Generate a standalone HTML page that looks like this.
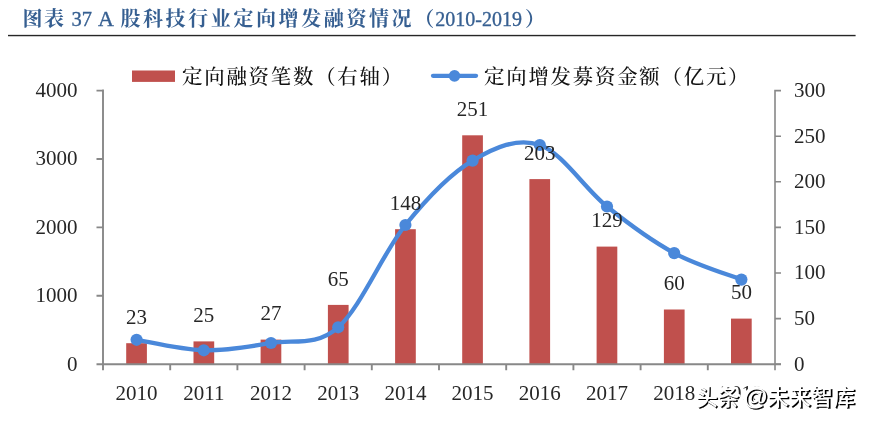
<!DOCTYPE html>
<html lang="zh-CN"><head><meta charset="utf-8"><title>图表 37 A 股科技行业定向增发融资情况</title>
<style>html,body{margin:0;padding:0;background:#fff}body{width:869px;height:422px;overflow:hidden;position:relative}svg{display:block;position:absolute;left:0;top:0}
text{font-family:"Liberation Serif","Noto Serif CJK SC",serif;fill:#262626}
.t{font-weight:700;fill:#365F91;font-size:20px}.tl{font-weight:normal;font-size:20px;stroke:#365F91;stroke-width:0.35px}.n{font-size:21px}.lg{font-size:20.4px;fill:#111;letter-spacing:1.8px;font-weight:500}
.wm text{font-family:"Liberation Sans","Noto Sans CJK SC",sans-serif;font-size:21.5px;font-weight:500;fill:#fff}
</style></head><body>
<svg width="869" height="422" viewBox="0 0 869 422">
<rect width="869" height="422" fill="#fff"/>
<text class="t" y="25.7"><tspan x="22.4" style="letter-spacing:1.6px">图表</tspan><tspan class="tl" x="71.4" style="font-size:20.5px">37</tspan><tspan class="tl" x="98.1" style="font-size:22px">A</tspan><tspan x="120.4" style="letter-spacing:2.6px">股科技行业定向增发融资情况（</tspan><tspan class="tl" x="435.3">2010-2019</tspan><tspan x="525">）</tspan></text>
<rect x="8" y="34.85" width="847.6" height="1.4" fill="#262626"/>
<rect x="132" y="70.5" width="43" height="11.4" fill="#C0504D"/>
<text class="lg" x="182" y="83.5">定向融资笔数（右轴）</text>
<line x1="433" y1="75.85" x2="476" y2="75.85" stroke="#4A88DA" stroke-width="4.3" stroke-linecap="round"/>
<circle cx="454.5" cy="75.85" r="5.8" fill="#4A88DA"/>
<text class="lg" x="484" y="83.5">定向增发募资金额（亿元）</text>
<rect x="126.2" y="343.2" width="20.7" height="21.0" fill="#C0504D"/>
<rect x="193.5" y="341.4" width="20.7" height="22.8" fill="#C0504D"/>
<rect x="260.6" y="339.6" width="20.7" height="24.6" fill="#C0504D"/>
<rect x="327.9" y="304.9" width="20.7" height="59.3" fill="#C0504D"/>
<rect x="395.1" y="229.2" width="20.7" height="135.0" fill="#C0504D"/>
<rect x="462.2" y="135.3" width="20.7" height="228.9" fill="#C0504D"/>
<rect x="529.4" y="179.1" width="20.7" height="185.1" fill="#C0504D"/>
<rect x="596.6" y="246.6" width="20.7" height="117.6" fill="#C0504D"/>
<rect x="663.9" y="309.5" width="20.7" height="54.7" fill="#C0504D"/>
<rect x="731.0" y="318.6" width="20.7" height="45.6" fill="#C0504D"/>
<path d="M103.0 89.6V370.2M96.5 364.2H781.0M96.5 364.2H103.0M96.5 295.8H103.0M96.5 227.4H103.0M96.5 159.0H103.0M96.5 90.6H103.0M170.2 364.2V370.2M237.4 364.2V370.2M304.6 364.2V370.2M371.8 364.2V370.2M439.0 364.2V370.2M506.2 364.2V370.2M573.4 364.2V370.2M640.6 364.2V370.2M707.8 364.2V370.2" stroke="#888888" stroke-width="1.9" fill="none"/>
<path d="M775.0 89.8V370.2M775.0 364.2H781.0M775.0 318.6H781.0M775.0 273.0H781.0M775.0 227.4H781.0M775.0 181.8H781.0M775.0 136.2H781.0M775.0 90.6H781.0" stroke="#888888" stroke-width="1.6" fill="none"/>
<text class="n" x="77.5" y="370.6" text-anchor="end">0</text>
<text class="n" x="77.5" y="302.2" text-anchor="end">1000</text>
<text class="n" x="77.5" y="233.8" text-anchor="end">2000</text>
<text class="n" x="77.5" y="165.4" text-anchor="end">3000</text>
<text class="n" x="77.5" y="97.0" text-anchor="end">4000</text>
<text class="n" x="794" y="370.6">0</text>
<text class="n" x="794" y="325.0">50</text>
<text class="n" x="794" y="279.4">100</text>
<text class="n" x="794" y="233.8">150</text>
<text class="n" x="794" y="188.2">200</text>
<text class="n" x="794" y="142.6">250</text>
<text class="n" x="794" y="97.0">300</text>
<text class="n" x="136.6" y="400" text-anchor="middle">2010</text>
<text class="n" x="203.8" y="400" text-anchor="middle">2011</text>
<text class="n" x="271.0" y="400" text-anchor="middle">2012</text>
<text class="n" x="338.2" y="400" text-anchor="middle">2013</text>
<text class="n" x="405.4" y="400" text-anchor="middle">2014</text>
<text class="n" x="472.6" y="400" text-anchor="middle">2015</text>
<text class="n" x="539.8" y="400" text-anchor="middle">2016</text>
<text class="n" x="607.0" y="400" text-anchor="middle">2017</text>
<text class="n" x="674.2" y="400" text-anchor="middle">2018</text>
<text class="n" x="741.4" y="400" text-anchor="middle">2019</text>
<path d="M136.6 339.8C147.8 341.6 181.4 349.8 203.8 350.3C226.2 350.8 248.6 346.8 271.0 343.0C293.4 339.2 315.8 347.0 338.2 327.3C360.6 307.6 383.0 252.8 405.4 225.0C427.8 197.2 450.2 173.9 472.6 160.6C495.0 147.3 517.4 137.3 539.8 145.0C562.2 152.7 584.6 188.5 607.0 206.5C629.4 224.5 651.8 240.9 674.2 253.1C696.6 265.3 730.2 275.2 741.4 279.6" stroke="#4A88DA" stroke-width="4.3" fill="none" stroke-linecap="round" stroke-linejoin="round"/>
<circle cx="136.6" cy="339.8" r="6.1" fill="#4A88DA"/>
<circle cx="203.8" cy="350.3" r="6.1" fill="#4A88DA"/>
<circle cx="271.0" cy="343.0" r="6.1" fill="#4A88DA"/>
<circle cx="338.2" cy="327.3" r="6.1" fill="#4A88DA"/>
<circle cx="405.4" cy="225.0" r="6.1" fill="#4A88DA"/>
<circle cx="472.6" cy="160.6" r="6.1" fill="#4A88DA"/>
<circle cx="539.8" cy="145.0" r="6.1" fill="#4A88DA"/>
<circle cx="607.0" cy="206.5" r="6.1" fill="#4A88DA"/>
<circle cx="674.2" cy="253.1" r="6.1" fill="#4A88DA"/>
<circle cx="741.4" cy="279.6" r="6.1" fill="#4A88DA"/>
<text class="n" x="136.6" y="324.0" text-anchor="middle">23</text>
<text class="n" x="203.8" y="322.2" text-anchor="middle">25</text>
<text class="n" x="271.0" y="320.4" text-anchor="middle">27</text>
<text class="n" x="338.2" y="285.7" text-anchor="middle">65</text>
<text class="n" x="405.4" y="210.0" text-anchor="middle">148</text>
<text class="n" x="472.6" y="116.1" text-anchor="middle">251</text>
<text class="n" x="539.8" y="159.9" text-anchor="middle">203</text>
<text class="n" x="607.0" y="227.4" text-anchor="middle">129</text>
<text class="n" x="674.2" y="290.3" text-anchor="middle">60</text>
<text class="n" x="741.4" y="299.4" text-anchor="middle">50</text>
<g class="wm"><text y="404.6" style="fill:#fff;stroke:#fff;stroke-width:4px;stroke-linejoin:round"><tspan x="696.2">头条</tspan><tspan x="743.2" style="font-size:24.5px">@</tspan><tspan x="767.3" style="letter-spacing:0.5px">未来智库</tspan></text><text y="406.0" style="fill:#000;stroke:#000;stroke-width:0.3px"><tspan x="697.6">头条</tspan><tspan x="744.6" style="font-size:24.5px">@</tspan><tspan x="768.7" style="letter-spacing:0.5px">未来智库</tspan></text><text y="404.6" style=""><tspan x="696.2">头条</tspan><tspan x="743.2" style="font-size:24.5px">@</tspan><tspan x="767.3" style="letter-spacing:0.5px">未来智库</tspan></text></g>
</svg></body></html>
